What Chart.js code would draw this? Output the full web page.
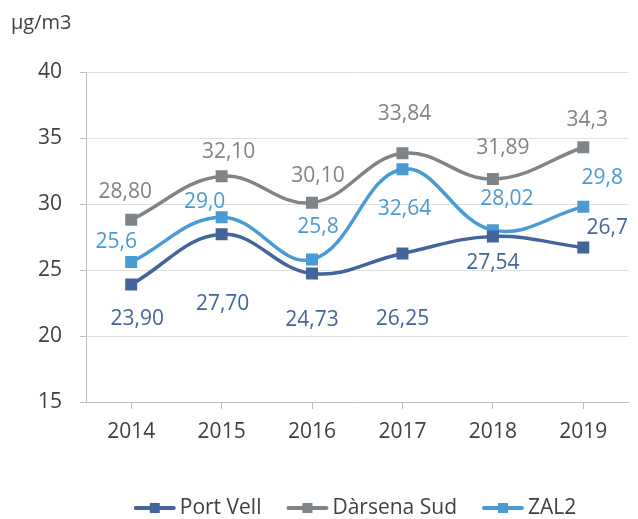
<!DOCTYPE html>
<html>
<head>
<meta charset="utf-8">
<script src="https://cdn.jsdelivr.net/npm/chart.js@4"></script>
<style>
  html, body { margin: 0; padding: 0; background: #fff; }
  #wrap { width: 638px; height: 519px; }
</style>
</head>
<body>
<div id="wrap"><canvas id="LineChart" width="638" height="519"></canvas></div>
<script>
const years = ['2014', '2015', '2016', '2017', '2018', '2019'];
const portVell = [23.90, 27.70, 24.73, 26.25, 27.54, 26.7];
const darsenaSud = [28.80, 32.10, 30.10, 33.84, 31.89, 34.3];
const zal2 = [25.6, 29.0, 25.8, 32.64, 28.02, 29.8];
const portVellText = ['23,90', '27,70', '24,73', '26,25', '27,54', '26,7'];
const darsenaSudText = ['28,80', '32,10', '30,10', '33,84', '31,89', '34,3'];
const zal2Text = ['25,6', '29,0', '25,8', '32,64', '28,02', '29,8'];
const yTicks = [15, 20, 25, 30, 35, 40];

// label offsets from each point (styling only)
const portVellOff = [[6, 34], [1, 70], [0, 46], [0, 66], [0, 27], [24, -20]];
const darsenaSudOff = [[-6, -28], [7, -24], [6, -27], [2, -39], [10, -31], [4, -27]];
const zal2Off = [[-15, -20], [-17, -15], [6, -32], [2, 40], [14, -31], [19, -29]];

const FONT = '"Open Sans", sans-serif';

const series = [
  { label: 'Port Vell', data: portVell, text: portVellText, off: portVellOff, color: '#44659c' },
  { label: 'Dàrsena Sud', data: darsenaSud, text: darsenaSudText, off: darsenaSudOff, color: '#7f8488' },
  { label: 'ZAL2', data: zal2, text: zal2Text, off: zal2Off, color: '#4a9ad6' }
];

const extras = {
  id: 'extras',
  afterDatasetsDraw(chart) {
    const ctx = chart.ctx;
    ctx.save();
    // value labels
    ctx.font = '21px ' + FONT;
    ctx.textAlign = 'center';
    ctx.textBaseline = 'middle';
    chart.data.datasets.forEach((ds, i) => {
      const meta = chart.getDatasetMeta(i);
      ctx.fillStyle = ds.borderColor;
      meta.data.forEach((pt, j) => {
        ctx.fillText(ds.labelText[j], pt.x + ds.labelOff[j][0], pt.y + ds.labelOff[j][1]);
      });
    });
    // unit
    ctx.fillStyle = '#404040';
    ctx.textAlign = 'left';
    ctx.font = '20px ' + FONT;
    ctx.fillText('µg/m3', 11, 23);
    // legend
    ctx.font = '21px ' + FONT;
    const iconW = 42, gap = 4, itemGap = 25, ly = 508;
    const items = chart.data.datasets.map(ds => ({ ds, w: ctx.measureText(ds.label).width }));
    const total = items.reduce((s, it) => s + iconW + gap + it.w, 0) + itemGap * (items.length - 1);
    let x = 355 - total / 2;
    items.forEach(it => {
      ctx.strokeStyle = it.ds.borderColor;
      ctx.fillStyle = it.ds.borderColor;
      ctx.lineWidth = 4;
      ctx.lineCap = 'round';
      ctx.beginPath(); ctx.moveTo(x + 2, ly); ctx.lineTo(x + iconW - 2, ly); ctx.stroke();
      ctx.fillRect(x + iconW / 2 - 5, ly - 5, 10, 10);
      ctx.fillStyle = '#404040';
      ctx.fillText(it.ds.label, x + iconW + gap, ly);
      x += iconW + gap + it.w + itemGap;
    });
    ctx.restore();
  }
};

const ctx = document.getElementById('LineChart').getContext('2d');
new Chart(ctx, {
  type: 'line',
  data: {
    labels: years,
    datasets: series.map(s => ({
      label: s.label,
      data: s.data,
      labelText: s.text,
      labelOff: s.off,
      borderColor: s.color,
      backgroundColor: s.color,
      borderWidth: 3.5,
      tension: 0.4,
      pointStyle: 'rect',
      pointRadius: 6,
      pointHoverRadius: 6
    }))
  },
  options: {
    responsive: false,
    animation: false,
    layout: { padding: { top: 72, right: 0, left: 0, bottom: 0 } },
    plugins: {
      tooltip: { enabled: false },
      legend: { display: false }
    },
    scales: {
      x: {
        offset: true,
        grid: { display: true, drawOnChartArea: false, tickLength: 7, color: '#bfbfbf' },
        border: { color: '#bfbfbf', width: 1 },
        ticks: { color: '#404040', font: { family: FONT, size: 21 }, padding: 10 },
        afterFit(scale) { scale.height = 117; }
      },
      y: {
        min: 15,
        max: 40,
        afterBuildTicks(scale) { scale.ticks = yTicks.map(v => ({ value: v })); },
        grid: { color: '#e0e0e0', tickLength: 6, tickColor: '#bfbfbf' },
        border: { color: '#bfbfbf', width: 1 },
        ticks: { color: '#404040', font: { family: FONT, size: 21 }, padding: 18 },
        afterFit(scale) { scale.width = 86; }
      }
    }
  },
  plugins: [extras]
});
</script>
</body>
</html>
